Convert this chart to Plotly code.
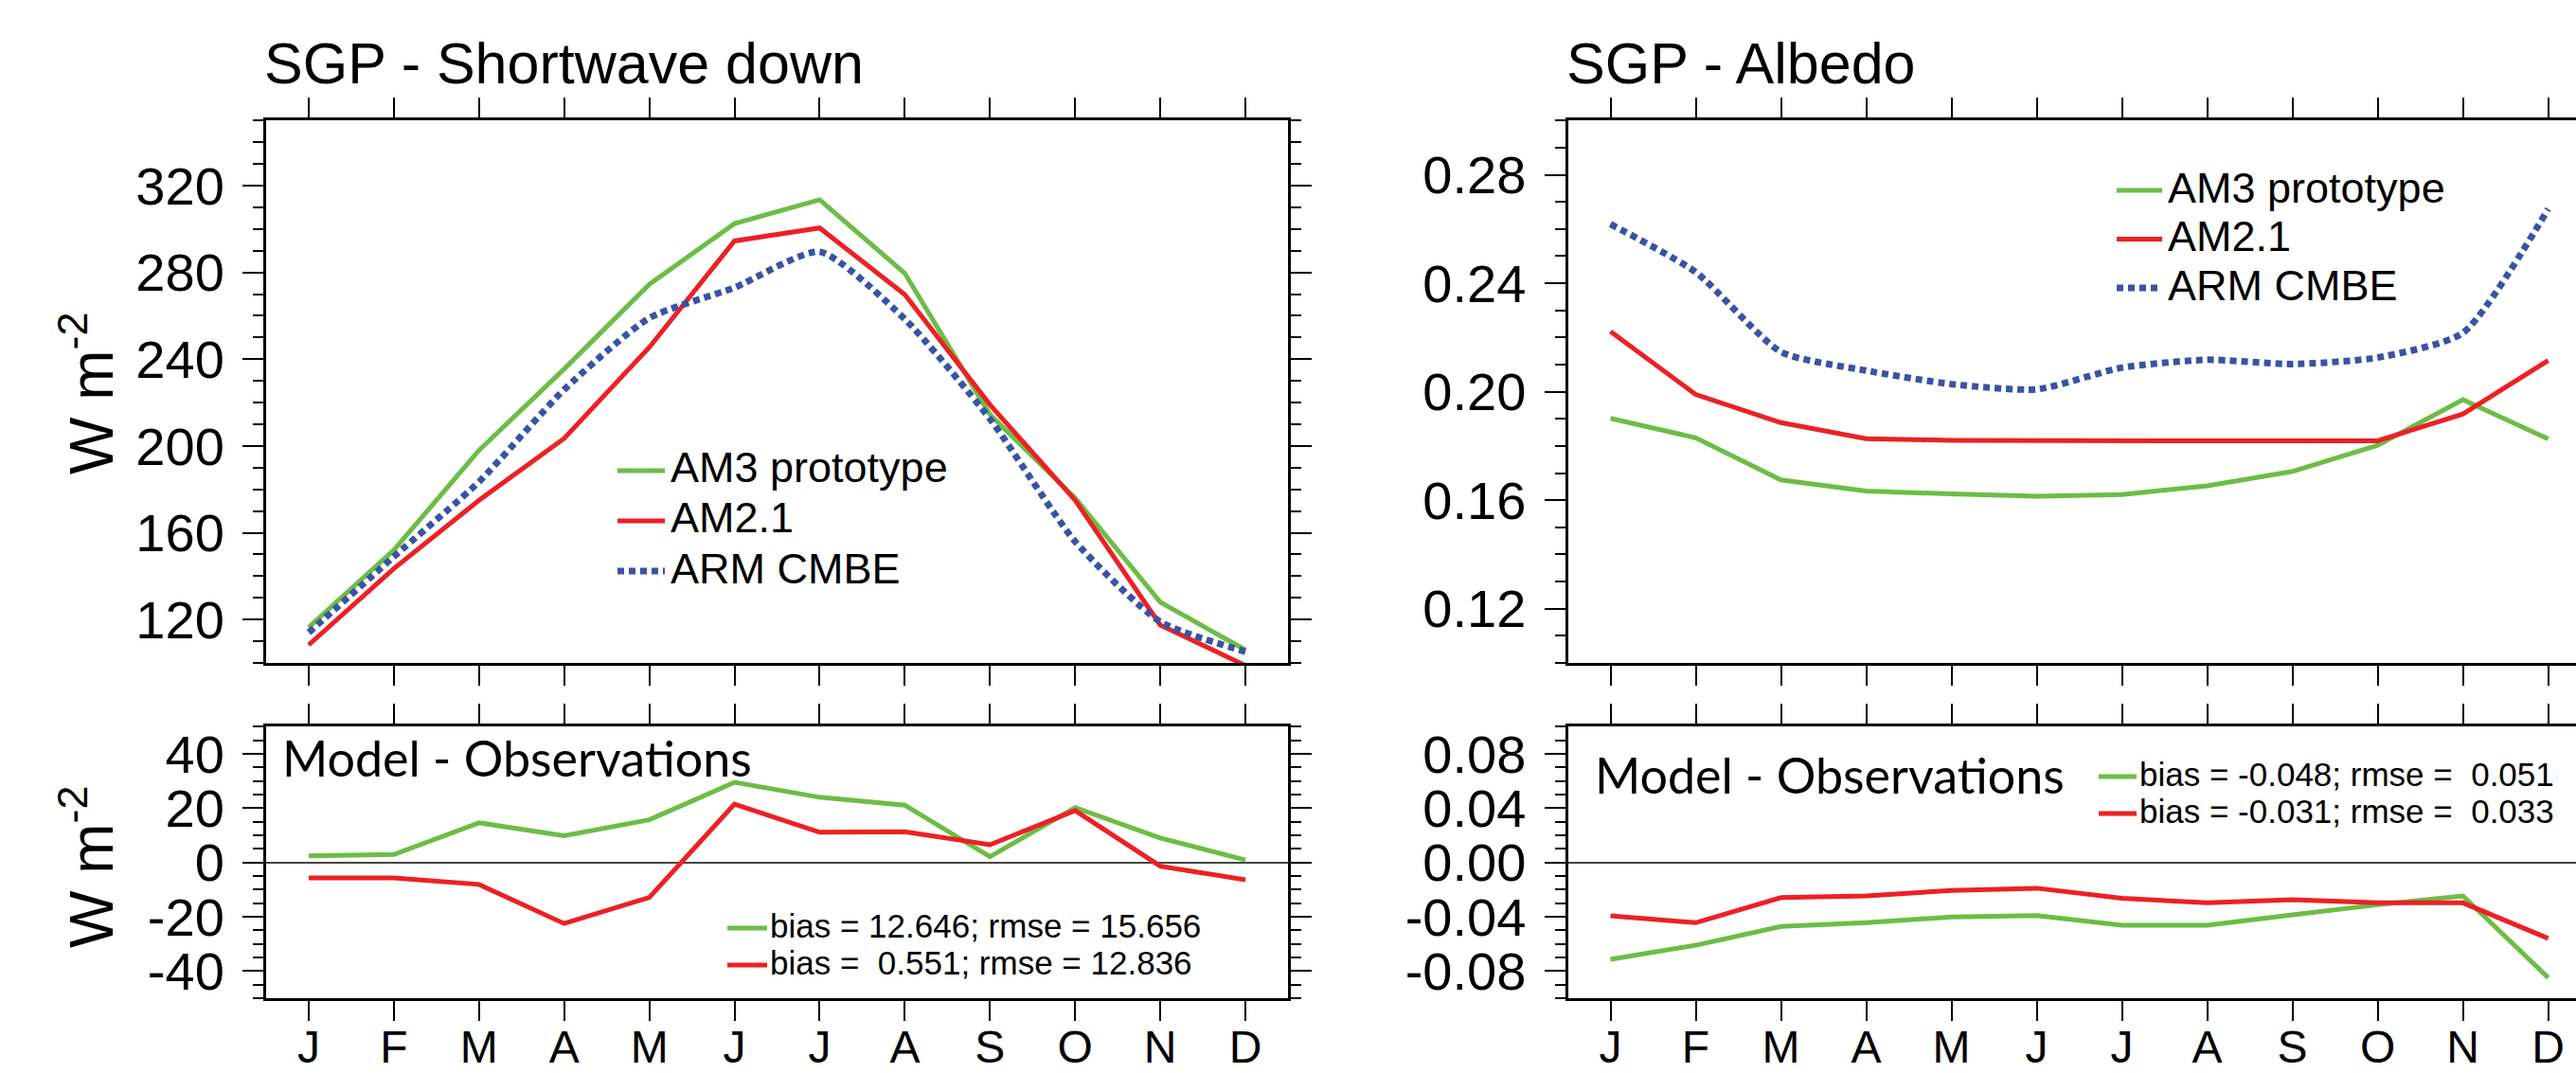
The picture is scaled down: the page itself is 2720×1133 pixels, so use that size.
import plotly.graph_objects as go

# ---------------- data ----------------
months = ["J", "F", "M", "A", "M", "J", "J", "A", "S", "O", "N", "D"]
month_num = [1, 2, 3, 4, 5, 6, 7, 8, 9, 10, 11, 12]

# Shortwave down (W m-2)
sw_am3 = [116.4, 152.0, 198.0, 235.5, 274.5, 302.5, 313.5, 279.6, 214.5, 176.0, 128.0, 106.0]
sw_am21 = [108.3, 143.5, 175.0, 203.5, 245.5, 294.5, 300.5, 269.8, 219.0, 175.0, 117.5, 98.8]
sw_obs = [114.0, 149.0, 183.5, 226.0, 259.0, 273.0, 289.5, 258.5, 212.5, 156.0, 119.0, 105.2]
sw_diff_am3 = [2.4, 2.9, 14.6, 9.8, 15.7, 29.5, 24.0, 21.1, 2.1, 20.2, 9.0, 0.9]
sw_diff_am21 = [-5.7, -5.7, -8.1, -22.5, -12.9, 21.5, 11.1, 11.3, 6.5, 19.1, -1.4, -6.4]

# Albedo
alb_am3 = [0.1902, 0.1830, 0.1675, 0.1634, 0.1623, 0.1615, 0.1621, 0.1653, 0.1706, 0.1803, 0.1971, 0.1826]
alb_am21 = [0.2222, 0.1990, 0.1886, 0.1827, 0.1821, 0.1819, 0.1819, 0.1819, 0.1819, 0.1819, 0.1918, 0.2115]
alb_obs = [0.2618, 0.2441, 0.2147, 0.2078, 0.2028, 0.2009, 0.2089, 0.2118, 0.2102, 0.2126, 0.2217, 0.2674]
alb_diff_am3 = [-0.0714, -0.0610, -0.0472, -0.0444, -0.0402, -0.0391, -0.0462, -0.0462, -0.0386, -0.0312, -0.0247, -0.0849]
alb_diff_am21 = [-0.0393, -0.0444, -0.0259, -0.0247, -0.0206, -0.0190, -0.0264, -0.0298, -0.0275, -0.0298, -0.0298, -0.0560]

series_names = ["AM3 prototype", "AM2.1", "ARM CMBE"]
stats_sw = ["bias = 12.646; rmse = 15.656", "bias =\u00a0 0.551; rmse = 12.836"]
stats_alb = ["bias = -0.048; rmse =\u00a0 0.051", "bias = -0.031; rmse =\u00a0 0.033"]

sw_ticks = [120, 160, 200, 240, 280, 320]
sw_ticktext = ["120", "160", "200", "240", "280", "320"]
swd_ticks = [-40, -20, 0, 20, 40]
swd_ticktext = ["-40", "-20", "0", "20", "40"]
alb_ticks = [0.12, 0.16, 0.20, 0.24, 0.28]
alb_ticktext = ["0.12", "0.16", "0.20", "0.24", "0.28"]
albd_ticks = [-0.08, -0.04, 0.0, 0.04, 0.08]
albd_ticktext = ["-0.08", "-0.04", "0.00", "0.04", "0.08"]

# ---------------- style ----------------
W, H = 2720, 1133
GREEN = "#6cbd45"
RED = "#ed2024"
BLUE = "#3953a4"
FONT = "Liberation Sans, Arial, sans-serif"
DOT = "7px,5px"


def px(x):
    return x / W


def py(y):
    return 1 - y / H


fig = go.Figure()

model_line = dict(width=5)
obs_line = dict(color=BLUE, width=7, dash=DOT, shape="spline", smoothing=0.6)

# top-left
fig.add_trace(go.Scatter(x=month_num, y=sw_am3, mode="lines", name=series_names[0],
                         line=dict(color=GREEN, **model_line), xaxis="x", yaxis="y", showlegend=False))
fig.add_trace(go.Scatter(x=month_num, y=sw_am21, mode="lines", name=series_names[1],
                         line=dict(color=RED, **model_line), xaxis="x", yaxis="y", showlegend=False))
fig.add_trace(go.Scatter(x=month_num, y=sw_obs, mode="lines", name=series_names[2],
                         line=obs_line, xaxis="x", yaxis="y", showlegend=False))
# bottom-left
fig.add_trace(go.Scatter(x=month_num, y=sw_diff_am3, mode="lines", name=stats_sw[0],
                         line=dict(color=GREEN, **model_line), xaxis="x2", yaxis="y2", showlegend=False))
fig.add_trace(go.Scatter(x=month_num, y=sw_diff_am21, mode="lines", name=stats_sw[1],
                         line=dict(color=RED, **model_line), xaxis="x2", yaxis="y2", showlegend=False))
# top-right
fig.add_trace(go.Scatter(x=month_num, y=alb_am3, mode="lines", name=series_names[0],
                         line=dict(color=GREEN, **model_line), xaxis="x3", yaxis="y3", showlegend=False))
fig.add_trace(go.Scatter(x=month_num, y=alb_am21, mode="lines", name=series_names[1],
                         line=dict(color=RED, **model_line), xaxis="x3", yaxis="y3", showlegend=False))
fig.add_trace(go.Scatter(x=month_num, y=alb_obs, mode="lines", name=series_names[2],
                         line=obs_line, xaxis="x3", yaxis="y3", showlegend=False))
# bottom-right
fig.add_trace(go.Scatter(x=month_num, y=alb_diff_am3, mode="lines", name=stats_alb[0],
                         line=dict(color=GREEN, **model_line), xaxis="x4", yaxis="y4", showlegend=False))
fig.add_trace(go.Scatter(x=month_num, y=alb_diff_am21, mode="lines", name=stats_alb[1],
                         line=dict(color=RED, **model_line), xaxis="x4", yaxis="y4", showlegend=False))

left_dom = [px(281), px(1360)]
right_dom = [px(1655.5), 1.0]
top_dom = [py(700), py(127.3)]
bot_dom = [py(1054), py(767.3)]

base = dict(showline=True, linecolor="black", linewidth=3, ticks="outside", tickcolor="black",
            tickwidth=2, showgrid=False, zeroline=False, automargin=False)

xcommon = dict(base, tickmode="array", tickvals=month_num, ticktext=months, ticklen=21,
               mirror="ticks", tickfont=dict(size=48, family=FONT, color="black"),
               ticklabelstandoff=-14)


def ycommon(ticks, text, minor_dtick, minor_tick0, mirror=True):
    return dict(base, tickmode="array", tickvals=ticks, ticktext=text, ticklen=22,
                mirror="ticks" if mirror else False,
                tickfont=dict(size=56, family=FONT, color="black"), ticklabelstandoff=8,
                minor=dict(tickmode="linear", tick0=minor_tick0, dtick=minor_dtick, ticks="outside",
                           ticklen=11, tickwidth=1.6, tickcolor="black"))


fig.update_layout(
    width=W, height=H, autosize=False,
    margin=dict(l=0, r=0, t=0, b=0, pad=0, autoexpand=False),
    paper_bgcolor="white", plot_bgcolor="white",
    font=dict(family=FONT, color="black"),
    showlegend=False,
    xaxis=dict(xcommon, domain=left_dom, range=[0.5, 12.5], anchor="y", showticklabels=False),
    xaxis2=dict(xcommon, domain=left_dom, range=[0.5, 12.5], anchor="y2"),
    xaxis3=dict(xcommon, domain=right_dom, range=[0.5, 12.326], anchor="y3", showticklabels=False),
    xaxis4=dict(xcommon, domain=right_dom, range=[0.5, 12.326], anchor="y4"),
    yaxis=dict(ycommon(sw_ticks, sw_ticktext, 10, 100), domain=top_dom, range=[100, 350], anchor="x"),
    yaxis2=dict(ycommon(swd_ticks, swd_ticktext, 5, -50), domain=bot_dom, range=[-50, 50], anchor="x2",
                zeroline=True, zerolinecolor="#444444", zerolinewidth=2),
    yaxis3=dict(ycommon(alb_ticks, alb_ticktext, 0.01, 0.10, mirror=False), domain=top_dom,
                range=[0.10, 0.30], anchor="x3"),
    yaxis4=dict(ycommon(albd_ticks, albd_ticktext, 0.01, -0.10, mirror=False), domain=bot_dom,
                range=[-0.10, 0.10], anchor="x4",
                zeroline=True, zerolinecolor="#444444", zerolinewidth=2),
)

annotations = []
shapes = []


def text_ann(x, y, text, size, family=FONT, xanchor="left", angle=0):
    annotations.append(dict(xref="paper", yref="paper", x=px(x), y=py(y), text=text,
                            showarrow=False, xanchor=xanchor, yanchor="middle", textangle=angle,
                            font=dict(size=size, family=family, color="black")))


def sample(x0, x1, y, color, dash=None, width=5):
    line = dict(color=color, width=width)
    if dash:
        line["dash"] = dash
    shapes.append(dict(type="line", xref="paper", yref="paper", x0=px(x0), x1=px(x1),
                       y0=py(y), y1=py(y), line=line))


# titles
text_ann(277, 67, "SGP - Shortwave down", 61)
text_ann(1652, 67, "SGP - Albedo", 61)

# y-axis titles
text_ann(92, 416, "W m<sup>-2</sup>", 64, xanchor="center", angle=-90)
text_ann(92, 916, "W m<sup>-2</sup>", 64, xanchor="center", angle=-90)

# Model - Observations labels
text_ann(296, 800, "Model - Observations", 52, family="Lato, Open Sans, sans-serif")
text_ann(1682, 818, "Model - Observations", 52, family="Lato, Open Sans, sans-serif")

# top-left legend
colors3 = [GREEN, RED, BLUE]
for i, yy in enumerate([497, 550, 603]):
    if i == 2:
        sample(652, 702, yy, BLUE, dash=DOT, width=7)
    else:
        sample(652, 702, yy, colors3[i])
    text_ann(706, yy - 3, series_names[i], 45)

# top-right legend
for i, yy in enumerate([201, 252.5, 304]):
    if i == 2:
        sample(2235, 2283, yy, BLUE, dash=DOT, width=7)
    else:
        sample(2235, 2283, yy, colors3[i])
    text_ann(2287, yy - 3, series_names[i], 45)

# bottom-left stats
for i, yy in enumerate([980, 1019]):
    sample(768, 810, yy, colors3[i])
    text_ann(811, yy - 3, stats_sw[i], 35)

# bottom-right stats
for i, yy in enumerate([820, 859]):
    sample(2216, 2256, yy, colors3[i])
    text_ann(2257, yy - 3, stats_alb[i], 35)

fig.update_layout(annotations=annotations, shapes=shapes)

fig.write_html("out.html", config={"displayModeBar": False},
               post_script="document.body.style.margin='0';document.body.style.overflow='hidden';")
